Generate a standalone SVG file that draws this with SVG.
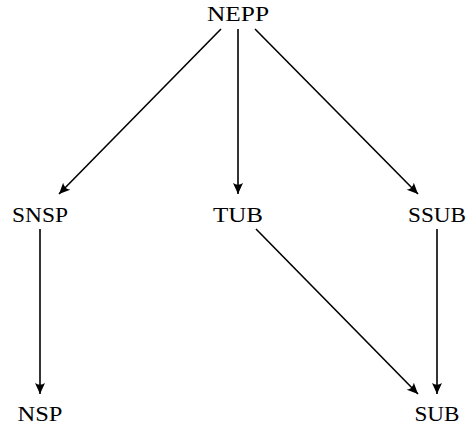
<svg xmlns="http://www.w3.org/2000/svg" width="472" height="426" viewBox="0 0 472 426">
  <style>
    .lbl { font-family: "Liberation Serif", "DejaVu Serif", serif; font-size: 22px; fill: #000; text-anchor: middle; }
    .edge { stroke: #000; stroke-width: 1.6; fill: none; marker-end: url(#head); }
  </style>
  <defs>
    <marker id="head" viewBox="-12 -6 14 12" refX="0" refY="0" markerWidth="14" markerHeight="12" markerUnits="userSpaceOnUse" orient="auto">
      <path d="M0,0 L-11,-5 Q-7.5,0 -11,5 Z" fill="#000"/>
    </marker>
  </defs>
  <rect width="472" height="426" fill="#fff"/>

  <g id="connectors">
    <line class="edge" x1="221" y1="29" x2="59" y2="194"/>
    <line class="edge" x1="238" y1="29" x2="238" y2="194"/>
    <line class="edge" x1="255" y1="29" x2="418" y2="194"/>
    <line class="edge" x1="40" y1="229" x2="40" y2="394"/>
    <line class="edge" x1="256" y1="229" x2="418" y2="394"/>
    <line class="edge" x1="437" y1="229" x2="437" y2="394"/>
  </g>

  <g id="NEPP"><text class="lbl" x="238" y="21" textLength="62" lengthAdjust="spacingAndGlyphs">NEPP</text></g>
  <g id="SNSP"><text class="lbl" x="40" y="222" textLength="56" lengthAdjust="spacingAndGlyphs">SNSP</text></g>
  <g id="TUB"><text class="lbl" x="238" y="222" textLength="50" lengthAdjust="spacingAndGlyphs">TUB</text></g>
  <g id="SSUB"><text class="lbl" x="437" y="222" textLength="58" lengthAdjust="spacingAndGlyphs">SSUB</text></g>
  <g id="NSP"><text class="lbl" x="40" y="421" textLength="45" lengthAdjust="spacingAndGlyphs">NSP</text></g>
  <g id="SUB"><text class="lbl" x="437" y="421" textLength="45" lengthAdjust="spacingAndGlyphs">SUB</text></g>
</svg>
